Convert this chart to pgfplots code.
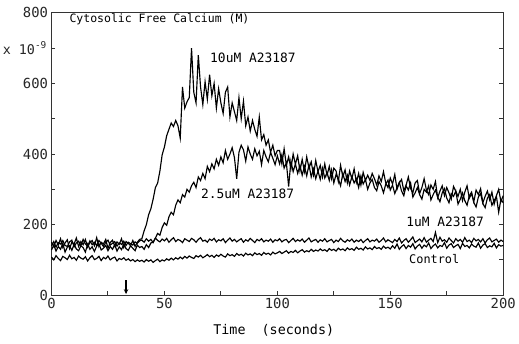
\documentclass[border=0pt]{standalone}
\usepackage{fontspec}
\setmainfont{DejaVu Sans Mono}
\usepackage{pgfplots}
\usepackage{pgfplotstable}
\pgfplotsset{compat=1.18}
\usetikzlibrary{arrows.meta}

\pgfplotstableread{
t A B C D
0 150 128 140 108
1 138 142 152 100
2 155 125 136 112
3 142 138 149 104
4 160 130 145 98
5 135 147 155 110
6 148 122 141 106
7 157 136 138 101
8 132 140 151 113
9 150 127 156 103
10 145 144 137 107
11 162 131 148 99
12 138 126 153 111
13 152 140 140 105
14 143 135 158 102
15 158 122 145 109
16 136 145 139 97
17 149 130 154 106
18 155 137 143 112
19 140 124 150 101
20 163 139 141 104
21 137 146 155 110
22 150 128 147 98
23 145 133 138 107
24 158 141 150 103
25 133 126 156 111
26 149 138 142 100
27 156 130 147 105
28 139 143 152 108
29 151 125 139 97
30 144 137 148 104
31 160 129 144 101
32 135 145 153 106
33 152 132 141 99
34 147 127 150 103
35 140 140 146 97
36 155 133 142 101
37 138 126 151 95
38 150 142 147 100
39 158 135 154 96
40 160 138 156 99
41 182 130 150 94
42 200 143 160 101
43 228 135 153 96
44 245 148 158 100
45 272 150 149 93
46 305 162 162 98
47 318 175 155 102
48 352 170 151 95
49 398 192 159 100
50 420 205 154 97
51 452 198 161 103
52 470 222 150 99
53 488 235 157 105
54 478 228 163 100
55 495 255 152 106
56 480 270 158 102
57 445 262 155 108
58 590 285 149 103
59 530 278 160 110
60 548 300 156 105
61 560 292 152 111
62 700 310 161 107
63 575 320 157 104
64 545 305 150 112
65 680 335 158 108
66 590 325 163 113
67 540 345 153 106
68 605 330 156 110
69 555 365 150 115
70 625 350 159 109
71 565 372 155 113
72 600 358 161 107
73 530 385 151 114
74 585 368 157 110
75 545 392 154 116
76 515 375 160 111
77 575 410 149 108
78 590 385 156 117
79 505 400 162 112
80 545 418 153 115
81 520 390 158 110
82 495 330 151 118
83 560 405 156 113
84 500 425 160 116
85 550 412 150 111
86 480 380 157 119
87 505 420 153 114
88 465 400 161 117
89 495 385 155 112
90 470 415 149 120
91 450 395 158 115
92 505 408 154 118
93 440 370 160 113
94 455 410 151 121
95 425 392 156 116
96 440 378 153 119
97 405 405 159 114
98 425 388 150 122
99 395 370 157 117
100 410 395 154 120
101 410 372 160 124
102 372 398 151 118
103 415 360 156 122
104 368 375 158 126
105 392 308 149 119
106 358 380 155 124
107 400 350 161 121
108 371 372 152 127
109 395 345 157 120
110 352 368 153 125
111 385 340 159 129
112 350 365 150 122
113 392 338 156 126
114 360 370 162 123
115 378 335 151 130
116 341 358 155 124
117 382 330 158 128
118 350 352 150 125
119 368 328 157 131
120 335 360 153 126
121 372 332 160 129
122 340 348 151 124
123 365 325 155 132
124 330 355 158 127
125 360 318 149 130
126 352 342 156 125
127 322 330 152 133
128 368 310 161 128
129 335 345 154 131
130 355 322 150 126
131 318 340 157 134
132 352 312 153 129
133 330 336 159 132
134 358 318 150 127
135 320 330 156 136
136 345 305 152 130
137 312 338 158 133
138 348 315 149 128
139 325 328 155 137
140 340 300 160 131
141 325 318 151 134
142 345 328 156 129
143 330 305 153 138
144 312 296 159 132
145 338 322 150 135
146 322 310 155 130
147 350 290 162 139
148 318 315 151 133
149 305 326 157 136
150 332 298 153 131
151 315 312 149 140
152 342 288 158 133
153 300 305 152 145
154 318 320 162 130
155 328 295 148 138
156 296 282 155 143
157 312 310 160 132
158 335 298 150 141
159 302 318 157 136
160 290 278 165 146
161 318 290 149 131
162 325 305 154 139
163 288 285 159 144
164 305 272 151 133
165 330 300 163 142
166 298 292 150 137
167 285 310 156 148
168 312 270 161 132
169 300 285 152 140
170 322 298 178 145
171 276 278 149 134
172 295 265 164 141
173 310 290 153 138
174 282 302 157 149
175 305 275 150 133
176 290 262 162 142
177 272 288 155 146
178 308 280 148 135
179 295 295 160 140
180 280 258 153 144
181 300 272 158 132
182 268 290 150 147
183 292 268 163 138
184 310 255 152 141
185 275 282 156 134
186 288 292 149 145
187 265 262 161 139
188 298 250 154 136
189 285 278 158 148
190 302 288 151 133
191 262 260 160 142
192 280 248 148 146
193 295 275 157 135
194 270 285 162 140
195 292 255 151 137
196 258 268 155 147
197 282 280 159 134
198 300 235 150 143
199 265 272 156 139
200 282 262 152 141
}\calcium

\begin{document}
\begin{tikzpicture}
\begin{axis}[
  scale only axis, width=456bp, height=285bp,
  xmin=0, xmax=200, ymin=0, ymax=800,
  xtick={0,50,...,200}, minor xtick={25,75,125,175},
  ytick={0,200,...,800}, minor ytick={100,300,500,700},
  xtick pos=bottom, ytick pos=both, tick align=inside,
  major tick length=4bp, minor tick length=4bp,
  axis line style={line width=1.1bp, black!80},
  every tick/.style={black!80, line width=1bp},
  /pgf/number format/assume math mode=true,
  /pgf/number format/1000 sep={},
  scaled ticks=false,
  tick label style={font=\fontsize{14bp}{16bp}\selectfont, black!85},
  xlabel={Time~~(seconds)},
  xlabel style={font=\fontsize{13.5bp}{16bp}\selectfont, at={(axis description cs:0.492,0)}, anchor=base, yshift=-40bp, inner sep=0pt},
  clip=false,
]
\coordinate (o) at (rel axis cs:0,0);
\addplot[black, line width=1.15bp] table[x=t, y=A] {\calcium};
\addplot[black, line width=1.15bp] table[x=t, y=B] {\calcium};
\addplot[black, line width=1.15bp] table[x=t, y=C] {\calcium};
\addplot[black, line width=1.15bp] table[x=t, y=D] {\calcium};
\node[anchor=base west, inner sep=0pt, font=\fontsize{11.6bp}{13bp}\selectfont] at (axis cs:7.9,772) {Cytosolic Free Calcium (M)};
\node[anchor=base west, inner sep=0pt, font=\fontsize{13bp}{15bp}\selectfont] at (axis cs:70.2,660) {10uM A23187};
\node[anchor=base west, inner sep=0pt, font=\fontsize{13bp}{15bp}\selectfont] at (axis cs:66.2,275) {2.5uM A23187};
\node[anchor=base west, inner sep=0pt, font=\fontsize{13bp}{15bp}\selectfont] at (axis cs:157,194) {1uM A23187};
\node[anchor=base west, inner sep=0pt, font=\fontsize{12bp}{14bp}\selectfont] at (axis cs:158.3,90) {Control};
\node[anchor=base east, inner sep=0pt, xshift=-5bp, font=\fontsize{13.5bp}{15bp}\selectfont, black!85] at (axis cs:0,682) {x 10\raisebox{6bp}{\fontsize{9.5bp}{10bp}\selectfont -9}};
\draw[black, line width=1.3bp, -{Stealth[length=5bp, width=4.5bp]}] (axis cs:33,42) -- (axis cs:33,3);
\end{axis}
\path (o) ++(-52bp,-49bp) rectangle ++(519bp,347bp);
\end{tikzpicture}
\end{document}
